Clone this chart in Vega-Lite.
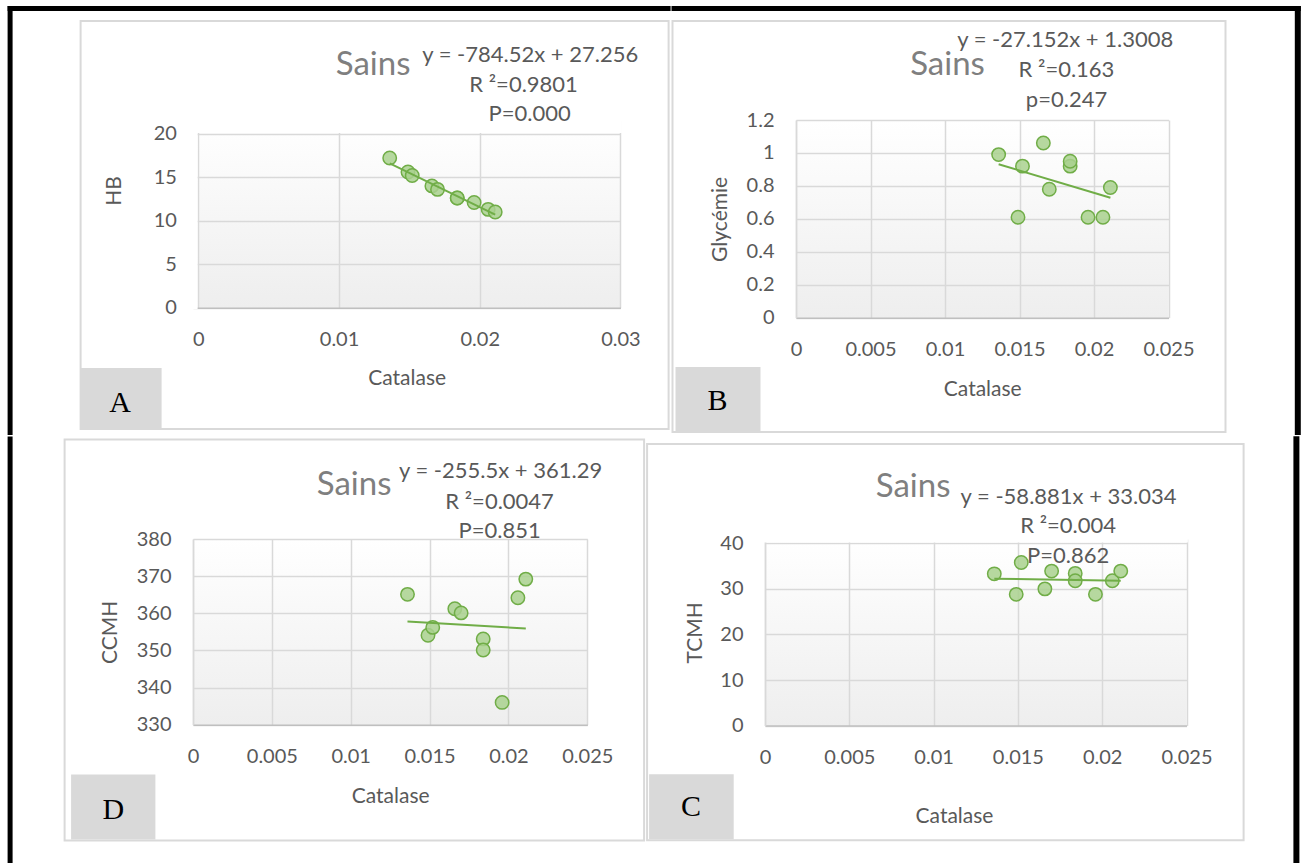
{
  "$schema": "https://vega.github.io/schema/vega-lite/v6.json",
  "background": "white",
  "padding": {"left": 7, "top": 5, "right": 0, "bottom": 0},
  "autosize": {"type": "pad"},
  "datasets": {
    "samples": [
      {"Catalase": 0.0136, "HB": 17.2, "Glycemie": 0.99, "CCMH": 365.1, "TCMH": 33.3},
      {"Catalase": 0.0149, "HB": 15.6, "Glycemie": 0.61, "CCMH": 354.1, "TCMH": 28.8},
      {"Catalase": 0.0152, "HB": 15.2, "Glycemie": 0.92, "CCMH": 356.2, "TCMH": 35.8},
      {"Catalase": 0.0166, "HB": 14.0, "Glycemie": 1.06, "CCMH": 361.2, "TCMH": 30.0},
      {"Catalase": 0.0170, "HB": 13.6, "Glycemie": 0.78, "CCMH": 360.1, "TCMH": 33.9},
      {"Catalase": 0.0184, "HB": 12.6, "Glycemie": 0.92, "CCMH": 353.1, "TCMH": 33.4},
      {"Catalase": 0.0184, "HB": 12.6, "Glycemie": 0.95, "CCMH": 350.1, "TCMH": 31.8},
      {"Catalase": 0.0196, "HB": 12.1, "Glycemie": 0.61, "CCMH": 336.0, "TCMH": 28.8},
      {"Catalase": 0.0206, "HB": 11.3, "Glycemie": 0.61, "CCMH": 364.2, "TCMH": 31.8},
      {"Catalase": 0.0211, "HB": 11.0, "Glycemie": 0.79, "CCMH": 369.2, "TCMH": 33.9}
    ],
    "trend": [
      {"panel": "A", "Catalase": 0.0136, "fit": 16.5865},
      {"panel": "A", "Catalase": 0.0211, "fit": 10.7026},
      {"panel": "B", "Catalase": 0.0136, "fit": 0.9315},
      {"panel": "B", "Catalase": 0.0211, "fit": 0.7279},
      {"panel": "D", "Catalase": 0.0136, "fit": 357.8152},
      {"panel": "D", "Catalase": 0.0211, "fit": 355.899},
      {"panel": "C", "Catalase": 0.0136, "fit": 32.2332},
      {"panel": "C", "Catalase": 0.0211, "fit": 31.7916}
    ]
  },
  "spacing": 0,
  "vconcat": [
    {
      "spacing": 0,
      "hconcat": [
        {
          "width": 427.4,
          "height": 187.7,
          "layer": [
            {
              "data": {"name": "samples"},
              "mark": {"type": "point", "filled": true, "fill": "#a9d18e", "fillOpacity": 0.85, "stroke": "#70ad47", "strokeWidth": 1.5, "size": 180, "opacity": 1},
              "encoding": {
                "x": {"field": "Catalase", "type": "quantitative", "scale": {"domain": [-0.000384, 0.03], "nice": false, "zero": false}, "axis": {"values": [0, 0.01, 0.02, 0.03], "format": ".6~g", "title": "Catalase", "titlePadding": 18, "grid": true}},
                "y": {"field": "HB", "type": "quantitative", "scale": {"domain": [0, 21.575], "nice": false, "zero": false}, "axis": {"values": [0, 5, 10, 15, 20], "format": ".6~g", "title": "HB", "titlePadding": 29, "titleY": 70.5, "labelPadding": 16.6, "domain": false, "grid": true}}
              }
            },
            {
              "data": {"name": "trend"},
              "transform": [{"filter": "datum.panel === 'A'"}],
              "mark": {"type": "line", "color": "#70ad47", "strokeWidth": 2},
              "encoding": {
                "x": {"field": "Catalase", "type": "quantitative", "scale": {"domain": [-0.000384, 0.03], "nice": false, "zero": false}, "axis": {"values": [0, 0.01, 0.02, 0.03], "format": ".6~g", "title": "Catalase", "titlePadding": 18, "grid": true}},
                "y": {"field": "fit", "type": "quantitative", "scale": {"domain": [0, 21.575], "nice": false, "zero": false}, "axis": {"values": [0, 5, 10, 15, 20], "format": ".6~g", "title": "HB", "titlePadding": 29, "titleY": 70.5, "labelPadding": 16.6, "domain": false, "grid": true}}
              }
            },
            {
              "data": {"values": [{}]},
              "layer": [
                {"mark": {"type": "rect", "fill": "white"},
                 "encoding": {"x": {"datum": -0.000584}, "x2": {"datum": -0.000057}, "y": {"datum": -0.15}, "y2": {"datum": 21.8}}},
                {"mark": {"type": "rect", "fill": "white"},
                 "encoding": {"x": {"datum": -0.000584}, "x2": {"datum": 0.0301}, "y": {"datum": 20.092}, "y2": {"datum": 21.8}}},
                {"mark": {"type": "rect", "fill": "black"},
                 "encoding": {"x": {"datum": -0.013564}, "x2": {"datum": 0.033569}, "y": {"datum": 34.678}, "y2": {"datum": 34.103}}},
                {"mark": {"type": "rect", "fill": "black"},
                 "encoding": {"x": {"datum": -0.013564}, "x2": {"datum": -0.013209}, "y": {"datum": 34.678}, "y2": {"datum": -14.632}}},
                {"mark": {"type": "rect", "fill": "white", "fillOpacity": 0, "stroke": "#d9d9d9", "strokeWidth": 2},
                 "encoding": {"x": {"datum": -0.008374}, "x2": {"datum": 0.033427}, "y": {"datum": 32.954}, "y2": {"datum": -13.943}}},
                {"mark": {"type": "rect", "fill": "#d9d9d9"},
                 "encoding": {"x": {"datum": -0.008374}, "x2": {"datum": -0.002616}, "y": {"datum": -6.931}, "y2": {"datum": -13.943}}},
                {"mark": {"type": "text", "text": "A", "font": "Liberation Serif", "fontSize": 30, "fill": "black", "align": "center", "baseline": "middle"},
                 "encoding": {"x": {"datum": -0.005566}, "y": {"datum": -10.92}}},
                {"mark": {"type": "text", "text": "Sains", "fontSize": 33, "fill": "#7f7f7f", "align": "center", "baseline": "middle"},
                 "encoding": {"x": {"datum": 0.012419}, "y": {"datum": 27.954}}},
                {"mark": {"type": "text", "text": "y = -784.52x + 27.256", "fontSize": 22, "fill": "#595959", "align": "center", "baseline": "middle"},
                 "encoding": {"x": {"datum": 0.023588}, "y": {"datum": 29.046}}},
                {"mark": {"type": "text", "text": "R ²=0.9801", "fontSize": 22, "fill": "#595959", "align": "center", "baseline": "middle"},
                 "encoding": {"x": {"datum": 0.023119}, "y": {"datum": 25.655}}},
                {"mark": {"type": "text", "text": "P=0.000", "fontSize": 22, "fill": "#595959", "align": "center", "baseline": "middle"},
                 "encoding": {"x": {"datum": 0.023545}, "y": {"datum": 22.264}}}
              ],
              "encoding": {
                "x": {"type": "quantitative", "scale": {"domain": [-0.000384, 0.03], "nice": false, "zero": false}, "axis": {"values": [0, 0.01, 0.02, 0.03], "format": ".6~g", "title": "Catalase", "titlePadding": 18, "grid": true}},
                "y": {"type": "quantitative", "scale": {"domain": [0, 21.575], "nice": false, "zero": false}, "axis": {"values": [0, 5, 10, 15, 20], "format": ".6~g", "title": "HB", "titlePadding": 29, "titleY": 70.5, "labelPadding": 16.6, "domain": false, "grid": true}}
              }
            }
          ]
        },
        {
          "width": 372.5,
          "height": 197.7,
          "layer": [
            {
              "data": {"name": "samples"},
              "mark": {"type": "point", "filled": true, "fill": "#a9d18e", "fillOpacity": 0.85, "stroke": "#70ad47", "strokeWidth": 1.5, "size": 180, "opacity": 1},
              "encoding": {
                "x": {"field": "Catalase", "type": "quantitative", "scale": {"domain": [0, 0.025], "nice": false, "zero": false}, "axis": {"values": [0, 0.005, 0.01, 0.015, 0.02, 0.025], "format": ".6~g", "title": "Catalase", "titlePadding": 19, "grid": true}},
                "y": {"field": "Glycemie", "type": "quantitative", "scale": {"domain": [0, 1.2], "nice": false, "zero": false}, "axis": {"values": [0, 0.2, 0.4, 0.6, 0.8, 1, 1.2], "format": ".6~g", "title": "Glycémie", "titlePadding": 16, "grid": true}}
              }
            },
            {
              "data": {"name": "trend"},
              "transform": [{"filter": "datum.panel === 'B'"}],
              "mark": {"type": "line", "color": "#70ad47", "strokeWidth": 2},
              "encoding": {
                "x": {"field": "Catalase", "type": "quantitative", "scale": {"domain": [0, 0.025], "nice": false, "zero": false}, "axis": {"values": [0, 0.005, 0.01, 0.015, 0.02, 0.025], "format": ".6~g", "title": "Catalase", "titlePadding": 19, "grid": true}},
                "y": {"field": "fit", "type": "quantitative", "scale": {"domain": [0, 1.2], "nice": false, "zero": false}, "axis": {"values": [0, 0.2, 0.4, 0.6, 0.8, 1, 1.2], "format": ".6~g", "title": "Glycémie", "titlePadding": 16, "grid": true}}
              }
            },
            {
              "data": {"values": [{}]},
              "layer": [
                {"mark": {"type": "rect", "fill": "black"},
                 "encoding": {"x": {"datum": -0.008356}, "x2": {"datum": 0.033879}, "y": {"datum": 1.89196}, "y2": {"datum": 1.86161}}},
                {"mark": {"type": "rect", "fill": "black"},
                 "encoding": {"x": {"datum": 0.033477}, "x2": {"datum": 0.033879}, "y": {"datum": 1.89196}, "y2": {"datum": -0.71199}}},
                {"mark": {"type": "rect", "fill": "white", "fillOpacity": 0, "stroke": "#d9d9d9", "strokeWidth": 2},
                 "encoding": {"x": {"datum": -0.008289}, "x2": {"datum": 0.028826}, "y": {"datum": 1.80091}, "y2": {"datum": -0.69378}}},
                {"mark": {"type": "rect", "fill": "#d9d9d9"},
                 "encoding": {"x": {"datum": -0.008087}, "x2": {"datum": -0.002383}, "y": {"datum": -0.29924}, "y2": {"datum": -0.69378}}},
                {"mark": {"type": "text", "text": "B", "font": "Liberation Serif", "fontSize": 30, "fill": "black", "align": "center", "baseline": "middle"},
                 "encoding": {"x": {"datum": -0.005268}, "y": {"datum": -0.50562}}},
                {"mark": {"type": "text", "text": "Sains", "fontSize": 33, "fill": "#7f7f7f", "align": "center", "baseline": "middle"},
                 "encoding": {"x": {"datum": 0.010168}, "y": {"datum": 1.53081}}},
                {"mark": {"type": "text", "text": "y = -27.152x + 1.3008", "fontSize": 22, "fill": "#595959", "align": "center", "baseline": "middle"},
                 "encoding": {"x": {"datum": 0.018067}, "y": {"datum": 1.68559}}},
                {"mark": {"type": "text", "text": "R ²=0.163", "fontSize": 22, "fill": "#595959", "align": "center", "baseline": "middle"},
                 "encoding": {"x": {"datum": 0.018154}, "y": {"datum": 1.50349}}},
                {"mark": {"type": "text", "text": "p=0.247", "fontSize": 22, "fill": "#595959", "align": "center", "baseline": "middle"},
                 "encoding": {"x": {"datum": 0.018154}, "y": {"datum": 1.3214}}}
              ],
              "encoding": {
                "x": {"type": "quantitative", "scale": {"domain": [0, 0.025], "nice": false, "zero": false}, "axis": {"values": [0, 0.005, 0.01, 0.015, 0.02, 0.025], "format": ".6~g", "title": "Catalase", "titlePadding": 19, "grid": true}},
                "y": {"type": "quantitative", "scale": {"domain": [0, 1.2], "nice": false, "zero": false}, "axis": {"values": [0, 0.2, 0.4, 0.6, 0.8, 1, 1.2], "format": ".6~g", "title": "Glycémie", "titlePadding": 16, "grid": true}}
              }
            }
          ]
        }
      ]
    },
    {
      "spacing": 0,
      "hconcat": [
        {
          "width": 394.3,
          "height": 185.7,
          "layer": [
            {
              "data": {"name": "samples"},
              "mark": {"type": "point", "filled": true, "fill": "#a9d18e", "fillOpacity": 0.85, "stroke": "#70ad47", "strokeWidth": 1.5, "size": 180, "opacity": 1},
              "encoding": {
                "x": {"field": "Catalase", "type": "quantitative", "scale": {"domain": [0, 0.025], "nice": false, "zero": false}, "axis": {"values": [0, 0.005, 0.01, 0.015, 0.02, 0.025], "format": ".6~g", "title": "Catalase", "titlePadding": 19, "grid": true}},
                "y": {"field": "CCMH", "type": "quantitative", "scale": {"domain": [330, 380], "nice": false, "zero": false}, "axis": {"values": [330, 340, 350, 360, 370, 380], "format": ".6~g", "title": "CCMH", "titlePadding": 16, "grid": true}}
              }
            },
            {
              "data": {"name": "trend"},
              "transform": [{"filter": "datum.panel === 'D'"}],
              "mark": {"type": "line", "color": "#70ad47", "strokeWidth": 2},
              "encoding": {
                "x": {"field": "Catalase", "type": "quantitative", "scale": {"domain": [0, 0.025], "nice": false, "zero": false}, "axis": {"values": [0, 0.005, 0.01, 0.015, 0.02, 0.025], "format": ".6~g", "title": "Catalase", "titlePadding": 19, "grid": true}},
                "y": {"field": "fit", "type": "quantitative", "scale": {"domain": [330, 380], "nice": false, "zero": false}, "axis": {"values": [330, 340, 350, 360, 370, 380], "format": ".6~g", "title": "CCMH", "titlePadding": 16, "grid": true}}
              }
            },
            {
              "data": {"values": [{}]},
              "mark": {"type": "rect", "fill": "black"},
              "encoding": {
                "x": {"datum": -0.011755, "type": "quantitative", "scale": {"domain": [0, 0.025], "nice": false, "zero": false}, "axis": {"values": [0, 0.005, 0.01, 0.015, 0.02, 0.025], "format": ".6~g", "title": "Catalase", "titlePadding": 19, "grid": true}},
                "x2": {"datum": -0.011438},
                "y": {"datum": 407.626, "type": "quantitative", "scale": {"domain": [330, 380], "nice": false, "zero": false}, "axis": {"values": [330, 340, 350, 360, 370, 380], "format": ".6~g", "title": "CCMH", "titlePadding": 16, "grid": true}},
                "y2": {"datum": 292.116}
              }
            },
            {
              "data": {"values": [{}]},
              "layer": [
                {"mark": {"type": "rect", "fill": "white", "fillOpacity": 0, "stroke": "#d9d9d9", "strokeWidth": 2},
                 "encoding": {"x": {"datum": -0.008141}, "x2": {"datum": 0.028601}, "y": {"datum": 406.818}, "y2": {"datum": 298.848}}},
                {"mark": {"type": "rect", "fill": "#d9d9d9"},
                 "encoding": {"x": {"datum": -0.007729}, "x2": {"datum": -0.002384}, "y": {"datum": 316.618}, "y2": {"datum": 299.117}}},
                {"mark": {"type": "text", "text": "D", "font": "Liberation Serif", "fontSize": 30, "fill": "black", "align": "center", "baseline": "middle"},
                 "encoding": {"x": {"datum": -0.005053}, "y": {"datum": 306.925}}},
                {"mark": {"type": "text", "text": "Sains", "fontSize": 33, "fill": "#7f7f7f", "align": "center", "baseline": "middle"},
                 "encoding": {"x": {"datum": 0.010214}, "y": {"datum": 394.567}}},
                {"mark": {"type": "text", "text": "y = -255.5x + 361.29", "fontSize": 22, "fill": "#595959", "align": "center", "baseline": "middle"},
                 "encoding": {"x": {"datum": 0.019503}, "y": {"datum": 398.202}}},
                {"mark": {"type": "text", "text": "R ²=0.0047", "fontSize": 22, "fill": "#595959", "align": "center", "baseline": "middle"},
                 "encoding": {"x": {"datum": 0.01944}, "y": {"datum": 389.855}}},
                {"mark": {"type": "text", "text": "P=0.851", "fontSize": 22, "fill": "#595959", "align": "center", "baseline": "middle"},
                 "encoding": {"x": {"datum": 0.01944}, "y": {"datum": 382.047}}}
              ],
              "encoding": {
                "x": {"type": "quantitative", "scale": {"domain": [0, 0.025], "nice": false, "zero": false}, "axis": {"values": [0, 0.005, 0.01, 0.015, 0.02, 0.025], "format": ".6~g", "title": "Catalase", "titlePadding": 19, "grid": true}},
                "y": {"type": "quantitative", "scale": {"domain": [330, 380], "nice": false, "zero": false}, "axis": {"values": [330, 340, 350, 360, 370, 380], "format": ".6~g", "title": "CCMH", "titlePadding": 16, "grid": true}}
              }
            }
          ]
        },
        {
          "width": 421.5,
          "height": 186.6,
          "layer": [
            {
              "data": {"name": "samples"},
              "mark": {"type": "point", "filled": true, "fill": "#a9d18e", "fillOpacity": 0.85, "stroke": "#70ad47", "strokeWidth": 1.5, "size": 180, "opacity": 1},
              "encoding": {
                "x": {"field": "Catalase", "type": "quantitative", "scale": {"domain": [0, 0.025], "nice": false, "zero": false}, "axis": {"values": [0, 0.005, 0.01, 0.015, 0.02, 0.025], "format": ".6~g", "title": "Catalase", "titlePadding": 38, "titleX": 189, "grid": true}},
                "y": {"field": "TCMH", "type": "quantitative", "scale": {"domain": [0, 40.943], "nice": false, "zero": false}, "axis": {"values": [0, 10, 20, 30, 40], "format": ".6~g", "title": "TCMH", "titlePadding": 14, "grid": true}}
              }
            },
            {
              "data": {"name": "trend"},
              "transform": [{"filter": "datum.panel === 'C'"}],
              "mark": {"type": "line", "color": "#70ad47", "strokeWidth": 2},
              "encoding": {
                "x": {"field": "Catalase", "type": "quantitative", "scale": {"domain": [0, 0.025], "nice": false, "zero": false}, "axis": {"values": [0, 0.005, 0.01, 0.015, 0.02, 0.025], "format": ".6~g", "title": "Catalase", "titlePadding": 38, "titleX": 189, "grid": true}},
                "y": {"field": "fit", "type": "quantitative", "scale": {"domain": [0, 40.943], "nice": false, "zero": false}, "axis": {"values": [0, 10, 20, 30, 40], "format": ".6~g", "title": "TCMH", "titlePadding": 14, "grid": true}}
              }
            },
            {
              "data": {"values": [{}]},
              "mark": {"type": "rect", "fill": "black"},
              "encoding": {
                "x": {"datum": 0.031341, "type": "quantitative", "scale": {"domain": [0, 0.025], "nice": false, "zero": false}, "axis": {"values": [0, 0.005, 0.01, 0.015, 0.02, 0.025], "format": ".6~g", "title": "Catalase", "titlePadding": 38, "titleX": 189, "grid": true}},
                "x2": {"datum": 0.031696},
                "y": {"datum": 63.478, "type": "quantitative", "scale": {"domain": [0, 40.943], "nice": false, "zero": false}, "axis": {"values": [0, 10, 20, 30, 40], "format": ".6~g", "title": "TCMH", "titlePadding": 14, "grid": true}},
                "y2": {"datum": -30.653}
              }
            },
            {
              "data": {"values": [{}]},
              "layer": [
                {"mark": {"type": "rect", "fill": "white"},
                 "encoding": {"x": {"datum": -0.000083}, "x2": {"datum": 0.025083}, "y": {"datum": 40.1755}, "y2": {"datum": 41.2}}},
                {"mark": {"type": "rect", "fill": "white", "fillOpacity": 0, "stroke": "#d9d9d9", "strokeWidth": 2},
                 "encoding": {"x": {"datum": -0.006993}, "x2": {"datum": 0.028387}, "y": {"datum": 61.788}, "y2": {"datum": -25.167}}},
                {"mark": {"type": "rect", "fill": "#d9d9d9"},
                 "encoding": {"x": {"datum": -0.006874}, "x2": {"datum": -0.001856}, "y": {"datum": -10.686}, "y2": {"datum": -24.948}}},
                {"mark": {"type": "text", "text": "C", "font": "Liberation Serif", "fontSize": 30, "fill": "black", "align": "center", "baseline": "middle"},
                 "encoding": {"x": {"datum": -0.004383}, "y": {"datum": -17.926}}},
                {"mark": {"type": "text", "text": "Sains", "fontSize": 33, "fill": "#7f7f7f", "align": "center", "baseline": "middle"},
                 "encoding": {"x": {"datum": 0.008784}, "y": {"datum": 52.397}}},
                {"mark": {"type": "text", "text": "y = -58.881x + 33.034", "fontSize": 22, "fill": "#595959", "align": "center", "baseline": "middle"},
                 "encoding": {"x": {"datum": 0.018007}, "y": {"datum": 50.093}}},
                {"mark": {"type": "text", "text": "R ²=0.004", "fontSize": 22, "fill": "#595959", "align": "center", "baseline": "middle"},
                 "encoding": {"x": {"datum": 0.017977}, "y": {"datum": 43.73}}},
                {"mark": {"type": "text", "text": "P=0.862", "fontSize": 22, "fill": "#595959", "align": "center", "baseline": "middle"},
                 "encoding": {"x": {"datum": 0.017977}, "y": {"datum": 37.148}}}
              ],
              "encoding": {
                "x": {"type": "quantitative", "scale": {"domain": [0, 0.025], "nice": false, "zero": false}, "axis": {"values": [0, 0.005, 0.01, 0.015, 0.02, 0.025], "format": ".6~g", "title": "Catalase", "titlePadding": 38, "titleX": 189, "grid": true}},
                "y": {"type": "quantitative", "scale": {"domain": [0, 40.943], "nice": false, "zero": false}, "axis": {"values": [0, 10, 20, 30, 40], "format": ".6~g", "title": "TCMH", "titlePadding": 14, "grid": true}}
              }
            }
          ]
        }
      ]
    }
  ],
  "config": {
    "font": "Lato",
    "view": {
      "stroke": null,
      "fill": {"gradient": "linear", "x1": 0, "y1": 0, "x2": 0, "y2": 1,
               "stops": [{"offset": 0, "color": "#ffffff"}, {"offset": 1, "color": "#eeeeee"}]}
    },
    "text": {"font": "Lato"},
    "axis": {
      "labelFont": "Lato", "labelFontSize": 20, "labelColor": "#595959",
      "titleFont": "Lato", "titleFontSize": 21, "titleFontWeight": "normal", "titleColor": "#595959",
      "grid": true, "gridColor": "#d9d9d9", "gridWidth": 1.5,
      "domainColor": "#d9d9d9", "domainWidth": 1.5,
      "ticks": false, "tickSize": 0, "labelPadding": 22,
      "labelFlush": false, "labelOverlap": false
    },
    "axisX": {"domainColor": "#bfbfbf"}
  }
}
